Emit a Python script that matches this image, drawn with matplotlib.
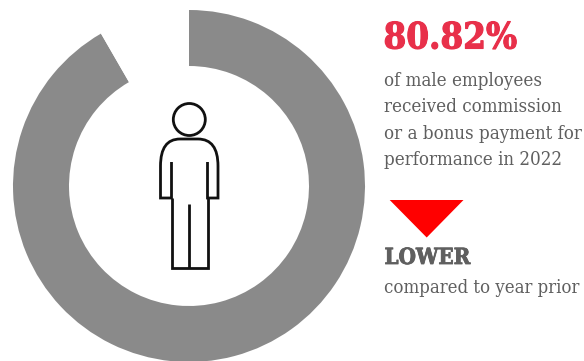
import matplotlib
matplotlib.use("Agg")
import matplotlib.pyplot as plt
import matplotlib.patheffects as pe
from matplotlib.patches import Circle, PathPatch, Polygon
from matplotlib.path import Path

# Values behind the ring and the callout
commission_pct = 80.82
ring_remainder = 7.35
year = 2022
direction = "LOWER"
body_lines = ["of male employees", "received commission",
              "or a bonus payment for", f"performance in {year}"]
footnote = "compared to year prior"

W, H = 584, 361
GREY = "#8A8A8A"
INK = "#5F5F5F"
RED = "#E8304A"
SERIF = "DejaVu Serif"

fig = plt.figure(figsize=(W / 100, H / 100), dpi=100, facecolor="white")

# Ring: centre (189, 186), outer radius 176 px, inner radius 120 px
cx, cy, R = 189, 186, 176
ring = fig.add_axes([(cx - R) / W, 1 - (cy + R) / H, 2 * R / W, 2 * R / H])
ring.pie([commission_pct, ring_remainder], colors=[GREY, "white"],
         startangle=90, counterclock=False, radius=1,
         wedgeprops=dict(width=56 / 176, linewidth=0))
ring.set_xlim(-1, 1)
ring.set_ylim(-1, 1)
ring.set_aspect("equal")
ring.axis("off")

# Overlay in pixel coordinates for the icon, arrow and text
ov = fig.add_axes([0, 0, 1, 1])
ov.set_xlim(0, W)
ov.set_ylim(H, 0)
ov.axis("off")
ov.patch.set_alpha(0)

# Person icon
lw = 2.0
ink = "#111111"
ov.add_patch(Circle((189.3, 119.5), 16, fill=False, ec=ink, lw=lw))
M, L, C = Path.MOVETO, Path.LINETO, Path.CURVE3
outline = Path(
    [(171.5, 162), (171.5, 198), (160.5, 198), (160.5, 166),
     (160.5, 139), (180, 139), (198, 139), (218, 139), (218, 166),
     (218, 198), (207.5, 198), (207.5, 162)],
    [M, L, L, L, C, C, L, C, C, L, L, L])
legs = Path(
    [(171.5, 198), (171.5, 267.5), (207.5, 267.5), (207.5, 198),
     (189.3, 204), (189.3, 267.5)],
    [M, L, L, L, M, L])
for p in (outline, legs):
    ov.add_patch(PathPatch(p, fill=False, ec=ink, lw=lw, joinstyle="miter"))

# Callout text; a thin outline thickens the bold weight
ov.text(383.5, 38.5, f"{commission_pct:.2f}%", color=RED, family=SERIF,
        weight="bold", size=26.2, va="center", ha="left", stretch="condensed",
        path_effects=[pe.withStroke(linewidth=0.8, foreground=RED)])
for i, line in enumerate(body_lines):
    ov.text(384, 81 + i * 26.3, line, color=INK, family=SERIF, size=13.4,
            va="center", ha="left", stretch="condensed")

# Down arrow and direction label
ov.add_patch(Polygon([(389.7, 200), (463.5, 200), (426.7, 237.5)],
                     closed=True, fc="#FF0000", ec="none"))
ov.text(384.5, 258, direction, color=INK, family=SERIF, weight="bold",
        size=16, va="center", ha="left", stretch="condensed",
        path_effects=[pe.withStroke(linewidth=0.6, foreground=INK)])
ov.text(384, 288, footnote, color=INK, family=SERIF, size=13.35,
        va="center", ha="left", stretch="condensed")

fig.savefig("out.png", dpi=100, facecolor="white")
